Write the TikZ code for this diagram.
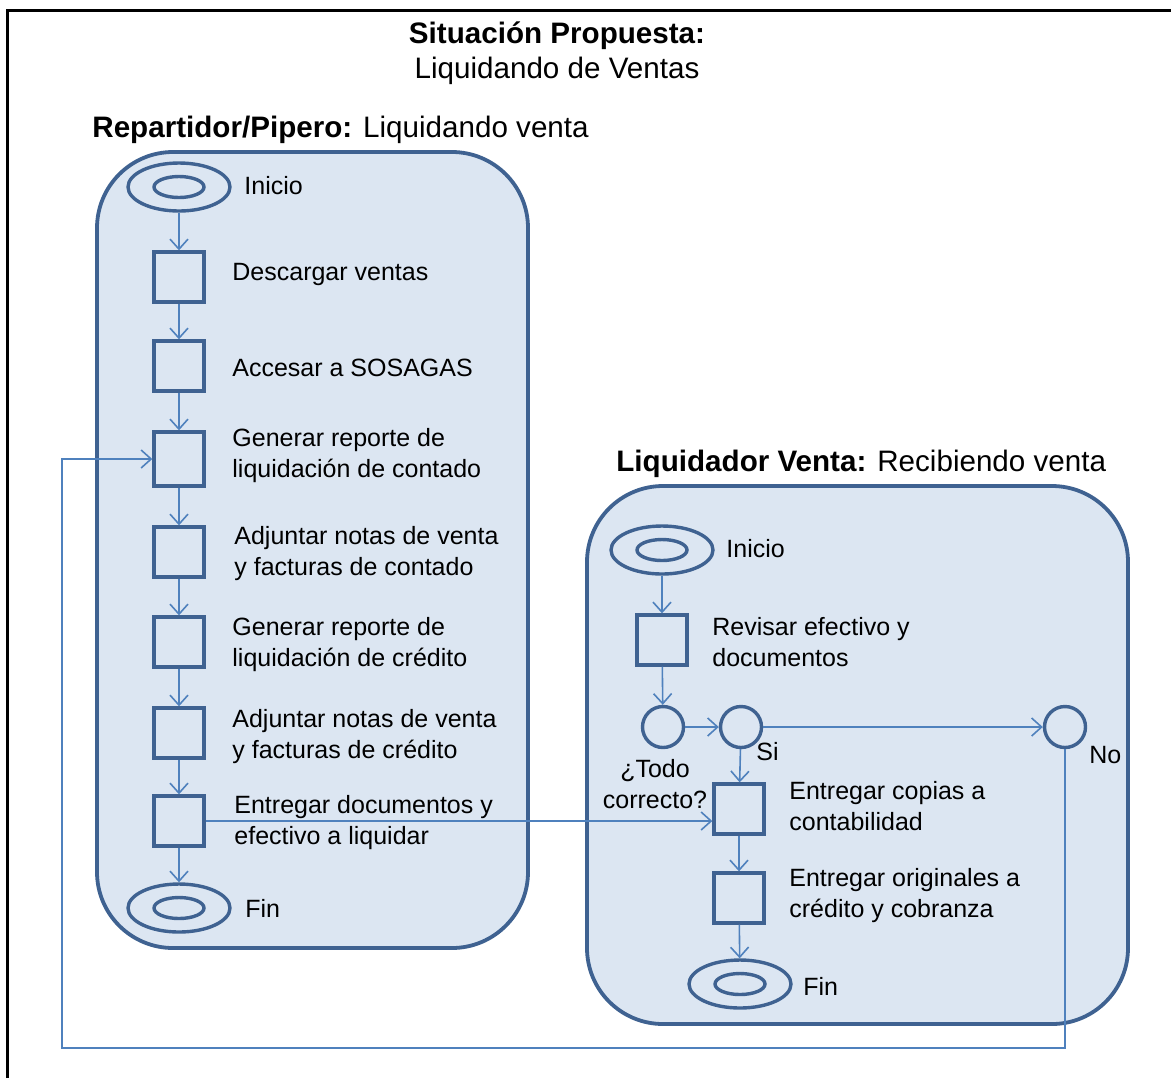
\documentclass[tikz,border=0pt]{standalone}
\usepackage{fontspec}
\setmainfont{Liberation Sans}
\usetikzlibrary{shapes.geometric,arrows.meta}
\definecolor{lanec}{RGB}{63,98,145}
\definecolor{lanefill}{RGB}{220,230,242}
\definecolor{arrc}{RGB}{79,129,189}
\begin{document}
\begin{tikzpicture}[x=0.5pt,y=-0.5pt,
  every node/.style={font=\fontsize{12.5}{15.5}\selectfont},
  lane/.style={draw=lanec,line width=1.9pt,fill=lanefill,rounded corners=38pt},
  act/.style={draw=lanec,line width=1.7pt,rectangle,minimum width=25pt,minimum height=25pt,inner sep=0pt},
  outerell/.style={draw=lanec,line width=1.7pt,ellipse,minimum width=51pt,minimum height=24pt,inner sep=0pt},
  innerell/.style={draw=lanec,line width=1.7pt,ellipse,minimum width=25pt,minimum height=10.5pt,inner sep=0pt},
  circ/.style={draw=lanec,line width=1.7pt,circle,minimum size=20.5pt,inner sep=0pt},
  flow/.style={draw=arrc,line width=0.8pt,-{Straight Barb[length=5pt,width=9pt]}},
  lbl/.style={anchor=west,align=left,inner sep=0pt},
  clbl/.style={align=center,inner sep=0pt},
  ttl/.style={font=\fontsize{14.8}{17}\selectfont}]
\useasboundingbox (0,0) rectangle (1171,1078);
% frame
\draw[line width=1.5pt,black] (7,1078) -- (7,10) -- (1171,10);
% titles
\node[clbl,ttl] (t1) at (557,36) {\textbf{Situación Propuesta:}};
\node[clbl,ttl] (t2) at (557,71) {Liquidando de Ventas};
\node[lbl,ttl] (t3) at (92,130) {\textbf{Repartidor/Pipero:} Liquidando venta};
\node[lbl,ttl] (t4) at (616,464) {\textbf{Liquidador Venta:} Recibiendo venta};
% lanes
\draw[lane] (97,152) rectangle (528,948);
\draw[lane] (587,486) rectangle (1128,1024);
% left lane
\node[outerell] (i1) at (179,187) {};
\node[innerell] (i1in) at (179,187) {};
\node[lbl] (i1t) at (244,186) {Inicio};
\node[act] (b1) at (179,277) {};
\node[lbl] (b1t) at (232,274) {Descargar ventas};
\node[act] (b2) at (179,366) {};
\node[lbl] (b2t) at (232,368) {Accesar a SOSAGAS};
\node[act,minimum height=27pt] (b3) at (179,459) {};
\node[lbl] (b3t) at (232,456) {Generar reporte de\\liquidación de contado};
\node[act] (b4) at (179,552) {};
\node[lbl] (b4t) at (234,554) {Adjuntar notas de venta\\y facturas de contado};
\node[act] (b5) at (179,642) {};
\node[lbl] (b5t) at (232,645) {Generar reporte de\\liquidación de crédito};
\node[act] (b6) at (179,733) {};
\node[lbl] (b6t) at (232,737) {Adjuntar notas de venta\\y facturas de crédito};
\node[act] (b7) at (179,821) {};
\node[lbl] (b7t) at (234,823) {Entregar documentos y\\efectivo a liquidar};
\node[outerell] (f1) at (179,908) {};
\node[innerell] (f1in) at (179,908) {};
\node[lbl] (f1t) at (245,908) {Fin};
\draw[flow] (i1) -- (b1);
\draw[flow] (b1) -- (b2);
\draw[flow] (b2) -- (b3);
\draw[flow] (b3) -- (b4);
\draw[flow] (b4) -- (b5);
\draw[flow] (b5) -- (b6);
\draw[flow] (b6) -- (b7);
\draw[flow] (b7) -- (f1);
% right lane
\node[outerell] (i2) at (662,550) {};
\node[innerell] (i2in) at (662,550) {};
\node[lbl] (i2t) at (726,549) {Inicio};
\node[act] (r1) at (662,640) {};
\node[lbl] (r1t) at (712,642) {Revisar efectivo y\\documentos};
\node[circ] (d1) at (663,727) {};
\node[clbl] (d1t) at (655,784) {¿Todo\\correcto?};
\node[circ] (s1) at (741,727) {};
\node[lbl] (s1t) at (756,752) {Si};
\node[circ] (n1) at (1065,727) {};
\node[lbl] (n1t) at (1089,755) {No};
\node[act] (c1) at (739,809) {};
\node[lbl] (c1t) at (789,806) {Entregar copias a\\contabilidad};
\node[act] (c2) at (739,898) {};
\node[lbl] (c2t) at (789,896) {Entregar originales a\\crédito y cobranza};
\node[outerell] (f2) at (740,984) {};
\node[innerell] (f2in) at (740,984) {};
\node[lbl] (f2t) at (803,986) {Fin};
\draw[flow] (i2) -- (r1);
\draw[flow] (r1) -- (d1);
\draw[flow] (d1) -- (s1);
\draw[flow] (s1) -- (n1);
\draw[flow] (s1) -- (c1);
\draw[flow] (c1) -- (c2);
\draw[flow] (c2) -- (f2);
% cross connectors
\draw[flow] (b7.east) -- (b7.east -| c1.west);
\coordinate (lb) at (62,1048);
\draw[flow] (n1.south) -- (n1.south |- lb) -- (lb) |- (b3.west);
\end{tikzpicture}
\end{document}
